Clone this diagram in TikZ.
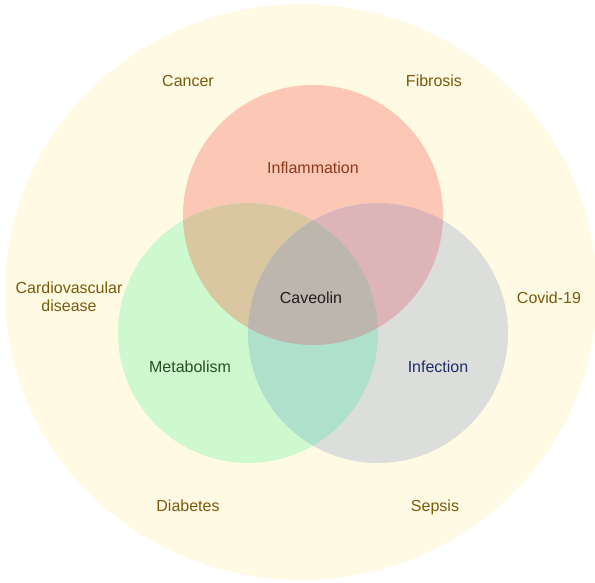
\documentclass[tikz,border=0pt]{standalone}
\usepackage{fontspec}
\setmainfont{Liberation Sans}
\usetikzlibrary{positioning}
\definecolor{outerbg}{HTML}{FFFAE4}
\definecolor{inflc}{HTML}{FCC7B5}
\definecolor{metac}{HTML}{CEF8CD}
\definecolor{infec}{HTML}{DCDEDB}
\definecolor{infl-meta}{HTML}{DAC6A0}
\definecolor{infl-infe}{HTML}{DDB5B9}
\definecolor{meta-infe}{HTML}{AEE0CB}
\definecolor{allc}{HTML}{BDB6AC}
\definecolor{diseasetxt}{HTML}{7A5A0C}
\definecolor{infltxt}{HTML}{8A3A1E}
\definecolor{metatxt}{HTML}{2D4D2A}
\definecolor{infetxt}{HTML}{1E2D66}

\begin{document}
\begin{tikzpicture}[x=1pt,y=-1pt,
    lbl/.style={font=\fontsize{16}{18}\selectfont, inner sep=0pt, anchor=base, align=center},
    dis/.style={lbl, text=diseasetxt}]
  \useasboundingbox (0,0) rectangle (595,582);
  %outer ring
  \fill[outerbg] (301,292) ellipse [x radius=296pt, y radius=288pt];
  %circles
  \coordinate (infl) at (313,215);
  \coordinate (meta) at (248,333);
  \coordinate (infe) at (378,333);
  \fill[inflc] (infl) circle [radius=130pt];
  \fill[metac] (meta) circle [radius=130pt];
  \fill[infec] (infe) circle [radius=130pt];
  %overlaps
  \begin{scope}
    \clip (infl) circle [radius=130pt];
    \fill[infl-meta] (meta) circle [radius=130pt];
    \fill[infl-infe] (infe) circle [radius=130pt];
  \end{scope}
  \begin{scope}
    \clip (meta) circle [radius=130pt];
    \fill[meta-infe] (infe) circle [radius=130pt];
    \clip (infe) circle [radius=130pt];
    \fill[allc] (infl) circle [radius=130pt];
  \end{scope}
  %inner labels
  \node[lbl, text=infltxt] (inflammation) at (313,173) {Inflammation};
  \node[lbl, text=metatxt] (metabolism) at (190,372) {Metabolism};
  \node[lbl, text=infetxt] (infection) at (438,372) {Infection};
  \node[lbl, text=black!88] (caveolin) at (311,303) {Caveolin};
  %diseases
  \node[dis] (cancer) at (188,86) {Cancer};
  \node[dis] (fibrosis) at (434,86) {Fibrosis};
  \node[dis] (cardio) at (69,311) {Cardiovascular\\disease};
  \node[dis] (covid) at (549,303) {Covid-19};
  \node[dis] (diabetes) at (188,511) {Diabetes};
  \node[dis] (sepsis) at (435,511) {Sepsis};
\end{tikzpicture}
\end{document}
